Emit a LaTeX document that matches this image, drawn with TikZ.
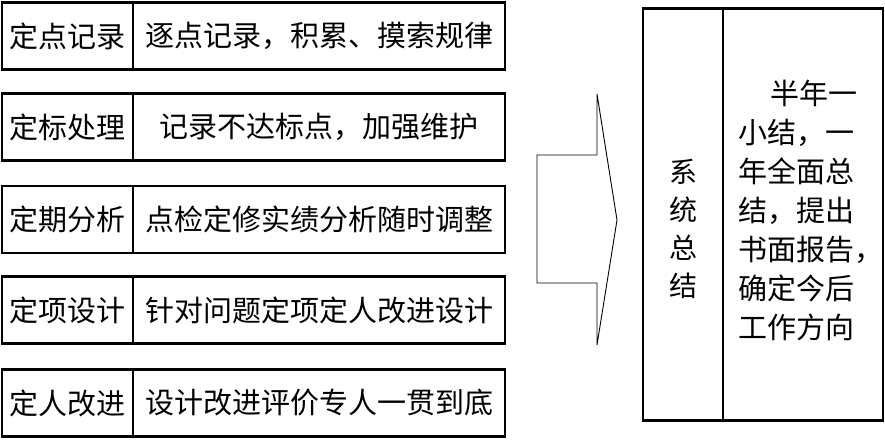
\documentclass[tikz,border=0pt]{standalone}
\usepackage{fontspec}
\newfontfamily\cjk{Noto Sans CJK SC}
\begin{document}
\begin{tikzpicture}[x=1pt, y=-1pt,
    cell/.style={draw, line width=2.9pt, minimum height=67pt, inner sep=0pt,
      font=\cjk\fontsize{29}{36}\selectfont},
    tag/.style={cell, minimum width=131pt},
    item/.style={cell, minimum width=372pt},
    col/.style={draw, line width=2.9pt, minimum height=412pt, inner sep=0pt},
    words/.style={inner sep=0pt, font=\cjk\fontsize{29}{39}\selectfont}]
  \useasboundingbox (0,0) rectangle (885,440);
  % the five rows on the left
  \node[tag] (tag1) at (67.5,36){定点记录};
  \node[item] (item1) at (319,36){逐点记录，积累、摸索规律};
  \node[tag] (tag2) at (67.5,127){定标处理};
  \node[item] (item2) at (319,127){记录不达标点，加强维护};
  \node[tag] (tag3) at (67.5,219.5){定期分析};
  \node[item] (item3) at (319,219.5){点检定修实绩分析随时调整};
  \node[tag] (tag4) at (67.5,310){定项设计};
  \node[item] (item4) at (319,310){针对问题定项定人改进设计};
  \node[tag] (tag5) at (67.5,403){定人改进};
  \node[item] (item5) at (319,403){设计改进评价专人一贯到底};
  % block arrow
  \draw[line width=0.9pt] (537,155) -- (597,155) -- (597,94) -- (617,220)
    -- (597,345) -- (597,283) -- (537,283) -- cycle;
  % summary column
  \node[col, minimum width=80pt] (sum) at (683,214.5){};
  \node[col, minimum width=160pt] (plan) at (803,214.5){};
  \node[words, align=center, font=\cjk\fontsize{28}{38}\selectfont] (sumtxt) at (683,229){系\\统\\总\\结};
  \node[words, align=left, anchor=west] (plantxt) at (738,210){\hspace*{1.1em}半年一\\小结，一\\年全面总\\结，提出\\书面报告，\\确定今后\\工作方向};
\end{tikzpicture}
\end{document}
